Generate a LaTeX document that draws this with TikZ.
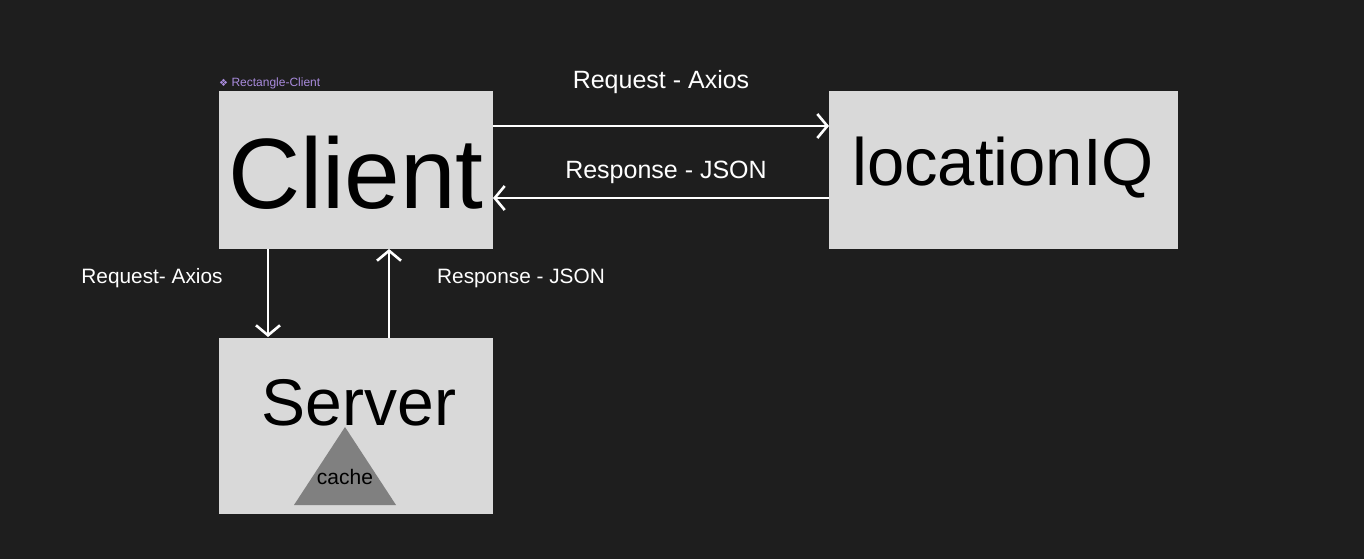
\documentclass[tikz,border=0pt]{standalone}
\usepackage{fontspec}
\setmainfont{Liberation Sans}
\newfontfamily\symfont{DejaVu Sans}
\usetikzlibrary{arrows.meta}
\definecolor{bg}{HTML}{1E1E1E}
\definecolor{boxfill}{HTML}{D9D9D9}
\definecolor{tri}{HTML}{808080}
\definecolor{tag}{HTML}{A98BDD}
\tikzset{
  box/.style={fill=boxfill, draw=none, inner sep=0pt, anchor=north west},
  conn/.style={draw=white, line width=2.6pt, -{Straight Barb[length=10pt,width=24pt,line width=2.6pt]}},
  lbl/.style={text=white, inner sep=0pt, font=\fontsize{25}{29}\selectfont},
  lbls/.style={text=white, inner sep=0pt, font=\fontsize{20.8}{24}\selectfont},
}
\begin{document}
\begin{tikzpicture}[x=1pt,y=-1pt]
\fill[bg] (0,0) rectangle (1364,559);
\useasboundingbox (0,0) rectangle (1364,559);
% boxes
\node[box, minimum width=274pt, minimum height=158pt] (client) at (219,91) {};
\node[box, minimum width=349pt, minimum height=158pt] (liq) at (829,91) {};
\node[box, minimum width=274pt, minimum height=176pt] (server) at (219,338) {};
% texts
\node[inner sep=0pt, font=\fontsize{100}{106}\selectfont] (clientT) at (356,173) {Client};
\node[inner sep=0pt, font=\fontsize{67}{74}\selectfont] (liqT) at (1003,168) {locationIQ};
\node[inner sep=0pt, font=\fontsize{66}{74}\selectfont] (serverT) at (359,403) {Server};
% cache triangle
\fill[tri] (345,427) coordinate (tA) -- (396,505) coordinate (tB) -- (294,505) coordinate (tC) -- cycle;
\node[inner sep=0pt, font=\fontsize{21}{25}\selectfont] (cache) at (345,477) {cache};
% tag
\node[anchor=west, inner sep=0pt, text=tag, font=\fontsize{12}{14}\selectfont] (tagT) at (219,83) {{\symfont\fontsize{10}{12}\selectfont ❖} Rectangle-Client};
% connectors
\coordinate (c1) at (493,126);
\coordinate (l1) at (829,126);
\coordinate (l2) at (829,198);
\coordinate (c2) at (493,198);
\coordinate (cd) at (268,249);
\coordinate (sd) at (268,337);
\coordinate (su) at (389,338);
\coordinate (cu) at (389,249);
\draw[conn] (c1) -- (l1);
\draw[conn] (l2) -- (c2);
\draw[conn] (cd) -- (sd);
\draw[conn] (su) -- (cu);
% labels
\node[lbl] (reqA) at (661,82) {Request - Axios};
\node[lbl] (resJ) at (666,172) {Response - JSON};
\node[lbls] (reqB) at (152,278) {Request- Axios};
\node[lbls] (resB) at (521,278) {Response - JSON};
\end{tikzpicture}
\end{document}
